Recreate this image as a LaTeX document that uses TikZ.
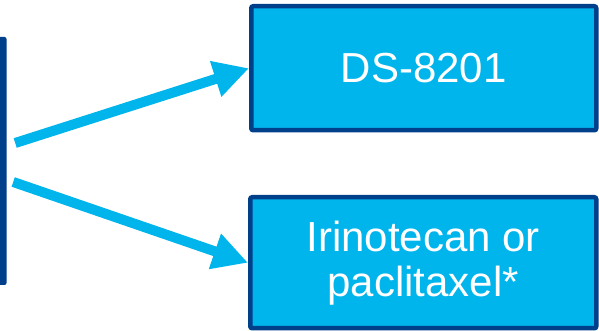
\documentclass[tikz,border=0pt]{standalone}
\usepackage{fontspec}
\setmainfont{Liberation Sans}
\usetikzlibrary{arrows.meta}
\definecolor{lblue}{RGB}{0,180,236}
\definecolor{dblue}{RGB}{0,63,138}
\tikzset{
  box/.style={draw=dblue, fill=lblue, line width=4.5pt, rounded corners=2pt,
    text=white, font=\fontsize{42}{45}\selectfont, align=center, inner sep=0pt},
  bar/.style={fill=dblue, rounded corners=2pt, inner sep=0pt},
  flow/.style={draw=lblue, line width=10pt, -{Triangle[length=35pt,width=35pt]}}
}
\begin{document}
\begin{tikzpicture}[x=1pt,y=1pt]
\useasboundingbox (0,0) rectangle (599,331);
\node[bar, minimum width=26.5pt, minimum height=248pt] (src) at (-6.75,170) {};
\node[box, minimum width=345pt, minimum height=124pt] (top) at (423.75,262.75) {DS-8201};
\node[box, minimum width=346pt, minimum height=131pt] (bot) at (423.25,68.25) {Irinotecan or\\paclitaxel*};
\coordinate (t1) at ([shift={(8.5,18)}]src.east);
\coordinate (t2) at ([shift={(6.5,-21)}]src.east);
\draw[flow] (t1) -- (top.west);
\draw[flow] (t2) -- (bot.west);
\end{tikzpicture}
\end{document}
